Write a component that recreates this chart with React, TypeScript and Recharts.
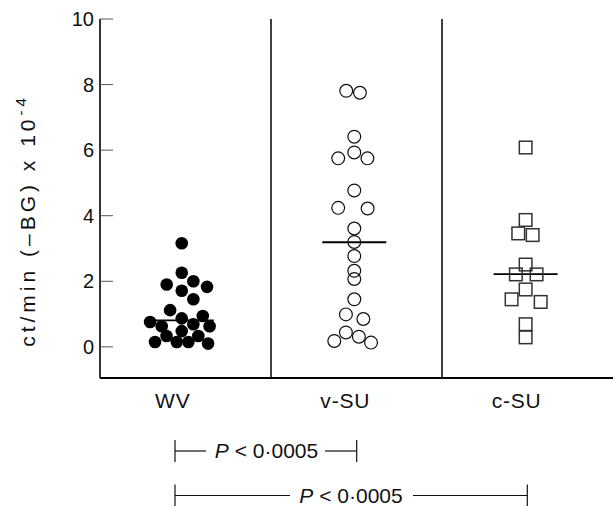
import { ReferenceLine, Scatter, ScatterChart, XAxis, YAxis } from "recharts";

const categories = ["WV", "v-SU", "c-SU"];
const groupCenters = [0.478, 1.487, 2.489];
const medians = [0.81, 3.19, 2.22];
const yTicks = [0, 2, 4, 6, 8, 10];

const wvValues = [3.16, 2.26, 1.9, 2.0, 1.83, 1.71, 1.45, 1.12, 0.76, 0.87, 0.94, 0.63, 0.69, 0.63, 0.48, 0.33, 0.33, 0.15, 0.15, 0.15, 0.1];
const wvJitter = [0, 0, -0.088, 0.068, 0.148, 0, 0.068, -0.068, -0.185, 0, 0.123, -0.117, 0.068, 0.163, 0, -0.089, 0.097, -0.156, -0.029, 0.039, 0.154];

const vsuValues = [7.81, 7.75, 6.41, 5.93, 5.75, 5.75, 4.77, 4.24, 4.22, 3.61, 3.2, 2.77, 2.32, 2.07, 1.45, 0.99, 0.85, 0.44, 0.18, 0.31, 0.13];
const vsuJitter = [-0.047, 0.033, 0, 0, -0.094, 0.077, 0, -0.094, 0.078, 0, 0, 0, 0, 0, 0, -0.049, 0.053, -0.049, -0.117, 0.027, 0.098];

const csuValues = [6.08, 3.87, 3.46, 3.41, 2.51, 2.21, 2.21, 1.75, 1.45, 1.37, 0.69, 0.29];
const csuJitter = [0, 0, -0.043, 0.041, 0, -0.057, 0.064, 0, -0.082, 0.088, 0, 0];

const toPoints = (values: number[], jitter: number[], group: number) =>
  values.map((v, i) => ({ x: groupCenters[group] + jitter[i], y: v }));

const wvData = toPoints(wvValues, wvJitter, 0);
const vsuData = toPoints(vsuValues, vsuJitter, 1);
const csuData = toPoints(csuValues, csuJitter, 2);
const medianData = medians.map((m, i) => ({ x: groupCenters[i], y: m }));

const FONT = "'Liberation Sans', Arial, Helvetica, sans-serif";

const FilledDot = (p: any) => <circle cx={p.cx} cy={p.cy} r={6.3} fill="#000" />;
const OpenDot = (p: any) => (
  <circle cx={p.cx} cy={p.cy} r={6.4} fill="none" stroke="#111" strokeWidth={1.2} />
);
const OpenSquare = (p: any) => (
  <rect x={p.cx - 6.3} y={p.cy - 6.3} width={12.6} height={12.6} fill="none" stroke="#333" strokeWidth={1.5} />
);
const MedianBar = (p: any) => (
  <line x1={p.cx - 32} x2={p.cx + 32} y1={p.cy} y2={p.cy} stroke="#000" strokeWidth={1.8} />
);

const YTick = (props: any) => {
  const { x, y, payload } = props;
  return (
    <g>
      <line x1={x + 6} x2={x + 19} y1={y} y2={y} stroke="#555" strokeWidth={1} />
      <text x={x} y={y} dy="0.355em" textAnchor="end" fontSize={20} fill="#111">
        {payload.value}
      </text>
    </g>
  );
};

const XTick = (props: any) => {
  const { x, y, payload } = props;
  const idx = groupCenters.indexOf(payload.value);
  return (
    <text x={x - 9} y={y} dy="0.71em" textAnchor="middle" fontSize={21} letterSpacing={0.8} fill="#111">
      {categories[idx]}
    </text>
  );
};

const YLabel = (props: any) => {
  const vb = props.viewBox;
  const cx = vb.x + 35;
  const cy = vb.y + vb.height / 2 + 22;
  return (
    <text
      x={cx}
      y={cy}
      transform={`rotate(-90, ${cx}, ${cy})`}
      textAnchor="middle"
      fontSize={21}
      fill="#111"
      letterSpacing={4}
    >
      <tspan>ct/min (–BG) x 10</tspan>
      <tspan dy={-9} fontSize={15}>-4</tspan>
    </text>
  );
};

function Bracket({ x1, x2, y, gapL, gapR, textX }: any) {
  return (
    <g stroke="#111" strokeWidth={1.2}>
      <line x1={x1} x2={x1} y1={y - 11} y2={y + 11} />
      <line x1={x2} x2={x2} y1={y - 11} y2={y + 11} />
      <line x1={x1} x2={gapL} y1={y} y2={y} />
      <line x1={gapR} x2={x2} y1={y} y2={y} />
      <text x={textX} y={y + 7} textAnchor="middle" fontSize={21} fill="#111" stroke="none">
        <tspan fontStyle="italic">P</tspan>
        <tspan> &lt; 0·0005</tspan>
      </text>
    </g>
  );
}

export default function App() {
  return (
    <div style={{ position: "absolute", left: 0, top: 0, width: 615, height: 506, fontFamily: FONT, background: "#fff" }}>
      <ScatterChart width={615} height={506} margin={{ top: 19, right: 2, bottom: 98, left: 0 }}>
        <XAxis
          type="number"
          dataKey="x"
          domain={[0, 3]}
          ticks={groupCenters}
          tick={<XTick />}
          tickLine={false}
          tickSize={0}
          tickMargin={15}
          height={30}
          axisLine={{ stroke: "#000", strokeWidth: 2 }}
          interval={0}
        />
        <YAxis
          type="number"
          dataKey="y"
          domain={[-0.95, 10]}
          ticks={yTicks}
          tick={<YTick />}
          tickLine={false}
          tickSize={0}
          tickMargin={6}
          width={100}
          axisLine={{ stroke: "#000", strokeWidth: 1.6 }}
          label={{ content: <YLabel /> }}
          interval={0}
        />
        <ReferenceLine x={1} stroke="#000" strokeWidth={1.5} />
        <ReferenceLine x={2} stroke="#000" strokeWidth={1.5} />
        <Scatter data={medianData} shape={<MedianBar />} isAnimationActive={false} />
        <Scatter data={wvData} shape={<FilledDot />} isAnimationActive={false} />
        <Scatter data={vsuData} shape={<OpenDot />} isAnimationActive={false} />
        <Scatter data={csuData} shape={<OpenSquare />} isAnimationActive={false} />
      </ScatterChart>
      <svg width={615} height={506} style={{ position: "absolute", left: 0, top: 0, pointerEvents: "none" }}>
        <Bracket x1={175} x2={356.7} y={451} gapL={206} gapR={325} textX={266.5} />
        <Bracket x1={175} x2={527.3} y={495.5} gapL={290} gapR={413} textX={351} />
      </svg>
    </div>
  );
}
